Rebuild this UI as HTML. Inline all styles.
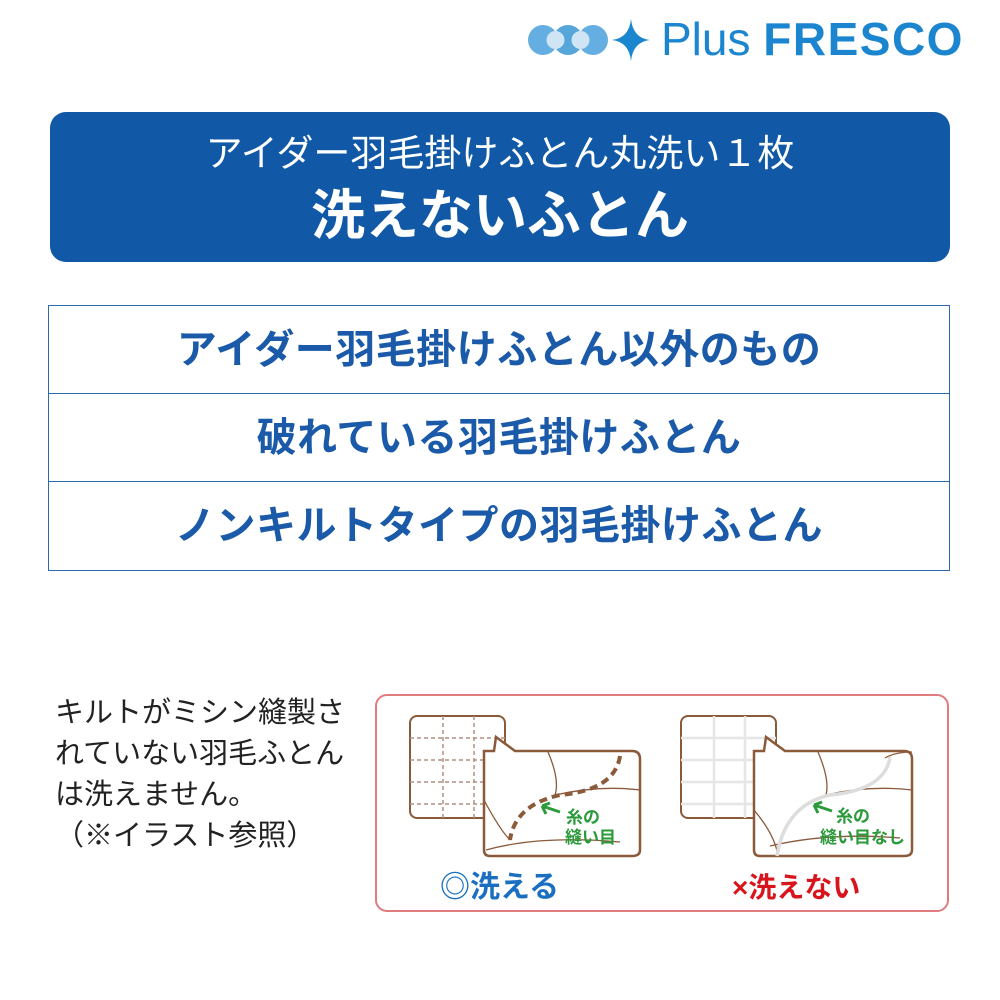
<!DOCTYPE html>
<html><head><meta charset="utf-8"><style>
*{margin:0;padding:0;box-sizing:border-box}
body{width:1000px;height:1000px;background:#fff;position:relative;font-family:"Liberation Sans","Noto Sans CJK JP",sans-serif;overflow:hidden}
.abs{position:absolute}
.banner{left:50px;top:112px;width:900px;height:150px;background:#1159a6;border-radius:16px;color:#fff;text-align:center}
.list{left:48px;top:305px;width:902px;height:266px;border:1.5px solid #2a6ab0}
.row{height:88px;border-bottom:1.5px solid #2a6ab0;color:#1a5aa8;font-weight:bold;font-size:40px;letter-spacing:0.5px;text-align:center;line-height:88px}
.row:last-child{border-bottom:none}
.note{left:55px;top:693px;font-size:29px;line-height:41px;color:#222;white-space:nowrap}
</style></head><body>
<div class="abs" style="left:525px;top:12px;width:475px;height:56px">
<svg width="130" height="56" viewBox="0 0 130 56" style="position:absolute;left:0;top:0">
<circle cx="18" cy="28" r="15" fill="#4aa0dc" opacity=".85"/>
<circle cx="43" cy="28" r="15" fill="#1e88cf" opacity=".75"/>
<circle cx="68" cy="28" r="15" fill="#4aa0dc" opacity=".85"/>
<circle cx="30.5" cy="28" r="9" fill="#cfe4f5"/>
<circle cx="55.5" cy="28" r="9" fill="#cfe4f5"/>
<path d="M106 7 Q108 26 125 28 Q108 30 106 49 Q104 30 87 28 Q104 26 106 7Z" fill="#1b86cf"/>
</svg>
<div class="abs" style="left:136px;top:0px;font-size:46px;color:#1b86cf;white-space:nowrap">Plus <b style="letter-spacing:1.5px">FRESCO</b></div>
</div>
<div class="abs banner">
<div style="font-size:37px;margin-top:20px;line-height:44px">アイダー羽毛掛けふとん丸洗い１枚</div>
<div style="font-size:54px;font-weight:bold;margin-top:8px;line-height:64px">洗えないふとん</div>
</div>
<div class="abs list">
<div class="row">アイダー羽毛掛けふとん以外のもの</div>
<div class="row">破れている羽毛掛けふとん</div>
<div class="row">ノンキルトタイプの羽毛掛けふとん</div>
</div>
<div class="abs note">キルトがミシン縫製さ<br>れていない羽毛ふとん<br>は洗えません。<br>（※イラスト参照）</div>
<div class="abs" style="left:375px;top:694px;width:574px;height:218px;border:2px solid #e07c80;border-radius:12px"></div>
<svg class="abs" style="left:375px;top:694px" width="574" height="218" viewBox="375 694 574 218">
<g fill="none" stroke="#8a5a3a" stroke-width="2">
<rect x="410" y="716" width="95" height="102" rx="7" fill="#fff"/>
<rect x="681" y="716" width="95" height="102" rx="7" fill="#fff"/>
</g>
<g stroke="#b09080" stroke-width="1.5" stroke-dasharray="4 3">
<line x1="410" y1="738" x2="505" y2="738"/><line x1="410" y1="760" x2="505" y2="760"/><line x1="410" y1="782" x2="505" y2="782"/><line x1="410" y1="804" x2="505" y2="804"/>
<line x1="443" y1="716" x2="443" y2="818"/><line x1="474" y1="716" x2="474" y2="818"/>
</g>
<g stroke="#e6e6e6" stroke-width="2.5">
<line x1="681" y1="738" x2="776" y2="738"/><line x1="681" y1="760" x2="776" y2="760"/><line x1="681" y1="782" x2="776" y2="782"/><line x1="681" y1="804" x2="776" y2="804"/>
<line x1="714" y1="716" x2="714" y2="818"/><line x1="745" y1="716" x2="745" y2="818"/>
</g>
<g stroke="#8a5a3a" stroke-width="2.5" fill="#fff">
<path d="M484 751 H494 L496 737 L515 751 H632 Q640 751 640 759 V850 Q640 856 632 856 H490 Q484 856 484 850Z"/>
<path d="M754 751 H764 L766 737 L785 751 H904 Q912 751 912 759 V850 Q912 856 904 856 H760 Q754 856 754 850Z"/>
</g>
<g fill="none" stroke="#8a5a3a" stroke-width="1.3">
<path d="M548 752 Q560 780 555 795"/><path d="M484 800 Q500 830 510 840"/><path d="M486 850 Q540 835 620 842"/><path d="M555 795 Q600 785 640 790"/>
<path d="M818 752 Q830 780 826 795"/><path d="M754 810 Q775 835 778 856"/><path d="M770 846 Q830 832 900 838"/><path d="M826 795 Q870 785 912 790"/><path d="M885 758 Q895 752 912 752"/>
</g>
<path d="M620 756 Q615 790 560 795 Q515 805 510 840" fill="none" stroke="#8a5a3a" stroke-width="4" stroke-dasharray="8 5"/>
<path d="M890 757 Q885 790 830 795 Q785 805 777 856" fill="none" stroke="#ddd" stroke-width="3.5"/>
<g stroke="#2a9a3a" stroke-width="3" fill="none"><path d="M560 812 L542 806 M542 806 L546 814 M542 806 L550 803"/><path d="M832 811 L814 805 M814 805 L818 813 M814 805 L822 802"/></g>
<g font-family="Liberation Sans,Noto Sans CJK JP,sans-serif" font-weight="bold" fill="#2a9a3a" font-size="17">
<text x="566" y="823">糸の</text><text x="565" y="843">縫い目</text>
<text x="836" y="822">糸の</text><text x="820" y="843">縫い目なし</text>
</g>
<text x="440" y="897" font-family="Liberation Sans,Noto Sans CJK JP,sans-serif" font-weight="bold" font-size="30" fill="#1a6fc0">◎洗える</text>
<text x="732" y="897" font-family="Liberation Sans,Noto Sans CJK JP,sans-serif" font-weight="bold" font-size="28" fill="#d8141c">×洗えない</text>
</svg>
</body></html>
